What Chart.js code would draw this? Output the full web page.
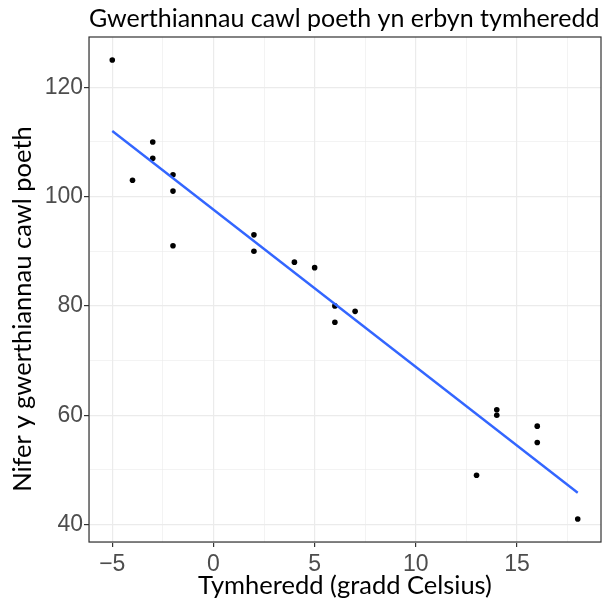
<!DOCTYPE html>
<html>
<head>
<meta charset="utf-8">
<script src="https://cdn.jsdelivr.net/npm/chart.js@4"></script>
<style>
  html, body { margin: 0; padding: 0; background: #fff; }
  #chart { display: block; }
</style>
</head>
<body>
<canvas id="chart" width="605" height="600"></canvas>
<script>
// temperature (x) and hot soup sales (y)
const temps = [-5, -4, -3, -3, -2, -2, -2, 2, 2, 4, 5, 6, 6, 7, 13, 14, 14, 16, 16, 18];
const sales = [125, 103, 110, 107, 104, 101, 91, 93, 90, 88, 87, 80, 77, 79, 49, 61, 60, 58, 55, 41];

// fitted line ends
const fitX = [-5, 18];
const fitY = [112.0, 45.8];

const xMajor = [-5, 0, 5, 10, 15];
const xMinor = [-2.5, 2.5, 7.5, 12.5, 17.5];
const yMajor = [40, 60, 80, 100, 120];
const yMinor = [50, 70, 90, 110];

const titleText = 'Gwerthiannau cawl poeth yn erbyn tymheredd';
const xTitle = 'Tymheredd (gradd Celsius)';
const yTitle = 'Nifer y gwerthiannau cawl poeth';

const labelFont = "Lato, sans-serif";
const tickFont = "'Liberation Sans', sans-serif";

const isMajor = (list, v) => list.some(m => Math.abs(m - v) < 1e-9);
const fmtTick = v => (v < 0 ? '\u2212' + Math.abs(v) : String(v));

// panel border, left aligned title and y title
const panelDecor = {
  id: 'panelDecor',
  afterDraw(chart) {
    const { ctx, chartArea: a } = chart;
    ctx.save();
    ctx.strokeStyle = '#333333';
    ctx.lineWidth = 1.2;
    ctx.strokeRect(a.left, a.top, a.right - a.left, a.bottom - a.top);
    ctx.fillStyle = '#000';
    ctx.font = '25px ' + labelFont;
    ctx.textBaseline = 'alphabetic';
    ctx.textAlign = 'left';
    ctx.fillText(titleText, a.left, 27);

    ctx.translate(23, 309);
    ctx.rotate(-Math.PI / 2);
    ctx.font = '25.5px ' + labelFont;
    ctx.textAlign = 'center';
    ctx.textBaseline = 'middle';
    ctx.fillText(yTitle, 0, 0);
    ctx.restore();
  }
};

function gridOpts(major) {
  return {
    color: '#EBEBEB',
    lineWidth: ctx => (ctx.tick && isMajor(major, ctx.tick.value) ? 1.2 : 0.6),
    tickColor: ctx => (ctx.tick && isMajor(major, ctx.tick.value) ? '#333333' : 'rgba(0,0,0,0)'),
    tickLength: 5,
    tickWidth: 1.2,
    drawTicks: true,
    border: { display: false }
  };
}

new Chart(document.getElementById('chart'), {
  type: 'scatter',
  data: {
    datasets: [
      {
        type: 'line',
        data: fitX.map((x, i) => ({ x, y: fitY[i] })),
        borderColor: '#3366FF',
        borderWidth: 2.4,
        pointRadius: 0,
        fill: false
      },
      {
        data: temps.map((x, i) => ({ x, y: sales[i] })),
        backgroundColor: '#000',
        borderColor: '#000',
        borderWidth: 0,
        pointRadius: 2.8
      }
    ]
  },
  options: {
    responsive: false,
    animation: false,
    devicePixelRatio: 1,
    layout: { padding: { top: 37, right: 0, bottom: 0, left: 0 } },
    plugins: { legend: { display: false }, tooltip: { enabled: false }, title: { display: false } },
    scales: {
      x: {
        type: 'linear',
        min: -6.15,
        max: 19.15,
        afterBuildTicks: s => { s.ticks = [...xMajor, ...xMinor].sort((a, b) => a - b).map(v => ({ value: v })); },
        afterFit: s => { s.height = 58; },
        grid: gridOpts(xMajor),
        ticks: {
          autoSkip: false,
          maxRotation: 0,
          padding: 4,
          color: '#4D4D4D',
          font: { family: tickFont, size: 23 },
          callback: v => (isMajor(xMajor, v) ? fmtTick(v) : '')
        },
        title: {
          display: true,
          text: xTitle,
          color: '#000',
          font: { family: labelFont, size: 25.5 },
          padding: { top: 0, bottom: -1 }
        }
      },
      y: {
        type: 'linear',
        min: 36.8,
        max: 129.2,
        afterBuildTicks: s => { s.ticks = [...yMajor, ...yMinor].sort((a, b) => a - b).map(v => ({ value: v })); },
        afterFit: s => { s.width = 89; },
        grid: gridOpts(yMajor),
        ticks: {
          autoSkip: false,
          padding: 1,
          color: '#4D4D4D',
          font: { family: tickFont, size: 23 },
          callback: v => (isMajor(yMajor, v) ? fmtTick(v) : '')
        },
        title: { display: false }
      }
    }
  },
  plugins: [panelDecor]
});
</script>
</body>
</html>
